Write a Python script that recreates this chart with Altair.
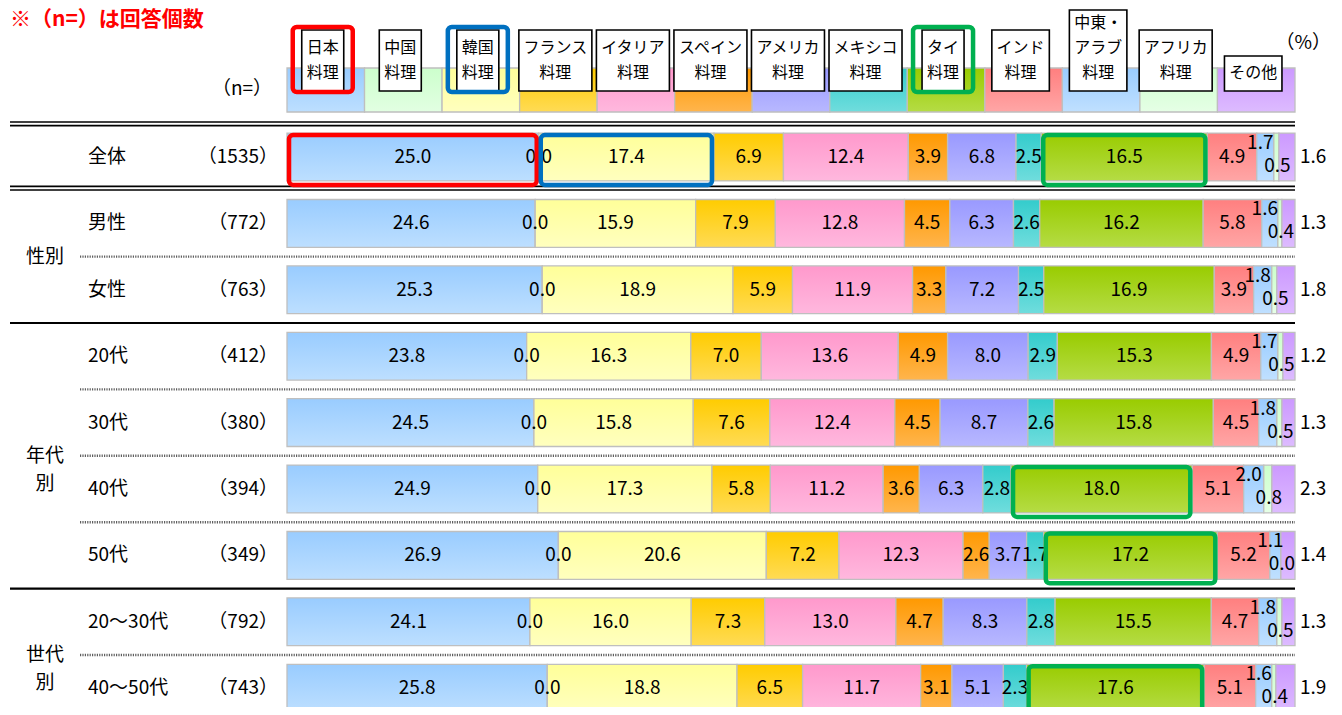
import altair as alt
import pandas as pd

# ---------------- data ----------------
categories = ["日本料理", "中国料理", "韓国料理", "フランス料理", "イタリア料理", "スペイン料理",
              "アメリカ料理", "メキシコ料理", "タイ料理", "インド料理", "中東・アラブ料理",
              "アフリカ料理", "その他"]
header_lines = [["日本", "料理"], ["中国", "料理"], ["韓国", "料理"], ["フランス", "料理"],
                ["イタリア", "料理"], ["スペイン", "料理"], ["アメリカ", "料理"], ["メキシコ", "料理"],
                ["タイ", "料理"], ["インド", "料理"], ["中東・", "アラブ", "料理"], ["アフリカ", "料理"],
                ["その他"]]

row_labels = ["全体", "男性", "女性", "20代", "30代", "40代", "50代", "20～30代", "40～50代"]
n_counts = [1535, 772, 763, 412, 380, 394, 349, 792, 743]

v_all = [25.0, 0.0, 17.4, 6.9, 12.4, 3.9, 6.8, 2.5, 16.5, 4.9, 1.7, 0.5, 1.6]
v_male = [24.6, 0.0, 15.9, 7.9, 12.8, 4.5, 6.3, 2.6, 16.2, 5.8, 1.6, 0.4, 1.3]
v_female = [25.3, 0.0, 18.9, 5.9, 11.9, 3.3, 7.2, 2.5, 16.9, 3.9, 1.8, 0.5, 1.8]
v_20s = [23.8, 0.0, 16.3, 7.0, 13.6, 4.9, 8.0, 2.9, 15.3, 4.9, 1.7, 0.5, 1.2]
v_30s = [24.5, 0.0, 15.8, 7.6, 12.4, 4.5, 8.7, 2.6, 15.8, 4.5, 1.8, 0.5, 1.3]
v_40s = [24.9, 0.0, 17.3, 5.8, 11.2, 3.6, 6.3, 2.8, 18.0, 5.1, 2.0, 0.8, 2.3]
v_50s = [26.9, 0.0, 20.6, 7.2, 12.3, 2.6, 3.7, 1.7, 17.2, 5.2, 1.1, 0.0, 1.4]
v_20_30s = [24.1, 0.0, 16.0, 7.3, 13.0, 4.7, 8.3, 2.8, 15.5, 4.7, 1.8, 0.5, 1.3]
v_40_50s = [25.8, 0.0, 18.8, 6.5, 11.7, 3.1, 5.1, 2.3, 17.6, 5.1, 1.6, 0.4, 1.9]
row_values = [v_all, v_male, v_female, v_20s, v_30s, v_40s, v_50s, v_20_30s, v_40_50s]

groups = [("性別", 1, 2), ("年代\n別", 3, 6), ("世代\n別", 7, 8)]
solid_after = [2, 6]          # solid separator after these rows
double_rows = [0]             # 全体 framed by double lines

highlights = [("全体", "日本料理", "#ff0000"), ("全体", "韓国料理", "#0070c0"),
              ("全体", "タイ料理", "#00b050"), ("40代", "タイ料理", "#00b050"),
              ("50代", "タイ料理", "#00b050"), ("40～50代", "タイ料理", "#00b050")]
header_highlights = [("日本料理", "#ff0000"), ("韓国料理", "#0070c0"), ("タイ料理", "#00b050")]

# colours (top, bottom of the vertical gradient)
col_top = ["#99ccff", "#ccffcc", "#ffff99", "#ffcc00", "#ff99cc", "#ff9900", "#9999ff",
           "#33cccc", "#99cc00", "#ff7f7f", "#99ccff", "#ccffcc", "#cc99ff"]
col_bot = ["#bddfff", "#e2ffe2", "#ffffbf", "#ffdb55", "#ffb8de", "#ffb54d", "#b8b8ff",
           "#70dddd", "#b5dc45", "#ffa6a6", "#c0e0ff", "#e6ffe6", "#ddbbff"]

# ---------------- layout ----------------
W, H = 1342, 715
FONT = "Noto Sans CJK JP"
PX_PER_UNIT = 10.08
BAR_LEFT = 287
XMIN = -BAR_LEFT / PX_PER_UNIT
XMAX = XMIN + W / PX_PER_UNIT
ROW0, STEP = 157, 66.4
YMIN = -ROW0 / STEP
YMAX = YMIN + H / STEP


def ux(px):
    return (px - BAR_LEFT) / PX_PER_UNIT


def ry(px):
    return (px - ROW0) / STEP


xs = alt.Scale(domain=[XMIN, XMAX], nice=False, zero=False)
ys = alt.Scale(domain=[YMIN, YMAX], nice=False, zero=False, reverse=True)

# segments (bars + header colour strip)
seg_rows, lab_rows = [], []
ncat = len(categories)
for r, vals in enumerate(row_values):
    tot = sum(vals)
    cum = 0.0
    for c, v in enumerate(vals):
        s = cum / tot * 100
        e = (cum + v) / tot * 100
        cum += v
        seg_rows.append(dict(cat=categories[c], ci=c, row=row_labels[r], x=s, x2=e,
                             y=r - 0.36, y2=r + 0.36))
        kind = "mid"
        if c == 10:
            kind = "top"
        elif c == 11:
            kind = "bot"
        elif c == 12:
            kind = "out"
        lab_rows.append(dict(xm=(s + e) / 2, y=r, t=f"{v:.1f}", kind=kind))
for c in range(ncat):
    seg_rows.append(dict(cat=categories[c], ci=c, row="header", x=c * 100 / ncat,
                         x2=(c + 1) * 100 / ncat, y=ry(68), y2=ry(112)))
seg = pd.DataFrame(seg_rows)
lab = pd.DataFrame(lab_rows)

X = lambda f="x": alt.X(f"{f}:Q", scale=xs, axis=None)
Y = lambda f="y": alt.Y(f"{f}:Q", scale=ys, axis=None)

layers = []
for c in range(ncat):
    grad = alt.LinearGradient(gradient="linear",
                              stops=[alt.GradientStop(color=col_top[c], offset=0),
                                     alt.GradientStop(color=col_bot[c], offset=1)],
                              x1=0, x2=0, y1=0, y2=1)
    layers.append(
        alt.Chart(seg[seg.ci == c]).mark_rect(fill=grad, stroke="#bfbfbf", strokeWidth=1.3)
        .encode(x=X("x"), x2="x2", y=Y("y"), y2="y2"))

# separator lines
line_rows = []
nrows = len(row_labels)
for r in range(nrows - 1):
    pos = r + 0.5
    if r in double_rows:
        continue
    kind = "solid" if r in solid_after else "dot"
    line_rows.append(dict(y=pos, x0=ux(10) if kind == "solid" else ux(80), x1=100, kind=kind))
for r in double_rows:
    for pos in (r - 0.5, r + 0.47):
        for off in (-1.8, 1.8):
            line_rows.append(dict(y=pos + off / STEP, x0=ux(10), x1=100, kind="double"))
lines = pd.DataFrame(line_rows)
layers.append(alt.Chart(lines[lines.kind == "solid"]).mark_rule(color="#000000", strokeWidth=2.2)
              .encode(x=X("x0"), x2="x1", y=Y("y")))
layers.append(alt.Chart(lines[lines.kind == "double"]).mark_rule(color="#000000", strokeWidth=1.6)
              .encode(x=X("x0"), x2="x1", y=Y("y")))
layers.append(alt.Chart(lines[lines.kind == "dot"]).mark_rule(color="#5e5e5e", strokeWidth=2.4,
                                                               strokeDash=[1.2, 1.2])
              .encode(x=X("x0"), x2="x1", y=Y("y")))

# value labels
txt = dict(font=FONT, fontSize=19, color="#000000")
layers.append(alt.Chart(lab[lab.kind == "mid"]).mark_text(baseline="middle", align="center", **txt)
              .encode(x=X("xm"), y=Y("y"), text="t:N"))
layers.append(alt.Chart(lab[lab.kind == "top"]).mark_text(baseline="middle", align="center",
                                                          dx=-5, dy=-14, **txt)
              .encode(x=X("xm"), y=Y("y"), text="t:N"))
layers.append(alt.Chart(lab[lab.kind == "bot"]).mark_text(baseline="middle", align="center",
                                                          dx=1, dy=9, **txt)
              .encode(x=X("xm"), y=Y("y"), text="t:N"))
layers.append(alt.Chart(lab[lab.kind == "out"]).mark_text(baseline="middle", align="left", **txt)
              .encode(x=alt.value(1300), y=Y("y"), text="t:N"))

# header label boxes
hb_rows, ht_rows = [], []
for c, ls in enumerate(header_lines):
    cx = (c + 0.5) * 100 / ncat - 0.3
    wpx = 15.5 * max(len(s) for s in ls) + 11
    n = len(ls)
    top = max(91 - 26 * n - 9, 10)
    hb_rows.append(dict(cat=categories[c], x=cx - wpx / 2 / PX_PER_UNIT, x2=cx + wpx / 2 / PX_PER_UNIT,
                        y=ry(top), y2=ry(91)))
    for k, s in enumerate(ls):
        ht_rows.append(dict(x=cx, y=ry(73 - 25 * (n - 1 - k)), t=s))
hb = pd.DataFrame(hb_rows)
ht = pd.DataFrame(ht_rows)
layers.append(alt.Chart(hb).mark_rect(fill="#ffffff", stroke="#000000", strokeWidth=1.6)
              .encode(x=X("x"), x2="x2", y=Y("y"), y2="y2"))
layers.append(alt.Chart(ht).mark_text(font=FONT, fontSize=16, color="#000000", baseline="middle")
              .encode(x=X("x"), y=Y("y"), text="t:N"))

# highlight boxes
hl_rows = []
for cat, colr in header_highlights:
    b = hb[hb.cat == cat].iloc[0]
    hl_rows.append(dict(x=b.x - 9 / PX_PER_UNIT, x2=b.x2 + 9 / PX_PER_UNIT,
                        y=b.y - 3 / STEP, y2=b.y2 + 1 / STEP, col=colr))
for rowname, cat, colr in highlights:
    s = seg[(seg.row == rowname) & (seg.cat == cat)].iloc[0]
    r = row_labels.index(rowname)
    hl_rows.append(dict(x=s.x + 0.2, x2=s.x2 - 0.2, y=r - 0.33, y2=r + 0.42, col=colr))
hl = pd.DataFrame(hl_rows)
layers.append(alt.Chart(hl).mark_rect(fillOpacity=0, strokeWidth=4.5, cornerRadius=4)
              .encode(x=X("x"), x2="x2", y=Y("y"), y2="y2",
                      stroke=alt.Stroke("col:N", scale=None)))

# left labels
left = pd.DataFrame(dict(y=list(range(nrows)), name=row_labels,
                         n=[f"（{v}）" for v in n_counts]))
ltxt = dict(font=FONT, fontSize=19, color="#000000", baseline="middle")
layers.append(alt.Chart(left).mark_text(align="left", **ltxt)
              .encode(x=alt.value(88), y=Y("y"), text="name:N"))
layers.append(alt.Chart(left).mark_text(align="right", **ltxt)
              .encode(x=alt.value(278), y=Y("y"), text="n:N"))
grp = pd.DataFrame(dict(t=[g[0] for g in groups], y=[(g[1] + g[2]) / 2 for g in groups]))
layers.append(alt.Chart(grp).mark_text(align="center", lineBreak="\n", lineHeight=28, **ltxt)
              .encode(x=alt.value(45), y=Y("y"), text="t:N"))

# misc texts
misc = pd.DataFrame(dict(t=["（n=）", "（%）"], y=[ry(89), ry(43)]))
layers.append(alt.Chart(misc.iloc[[0]]).mark_text(align="center", **ltxt)
              .encode(x=alt.value(242), y=Y("y"), text="t:N"))
layers.append(alt.Chart(misc.iloc[[1]]).mark_text(align="right", **ltxt)
              .encode(x=alt.value(1331), y=Y("y"), text="t:N"))
title = pd.DataFrame(dict(t=["※（n=）は回答個数"], y=[ry(9)]))
layers.append(alt.Chart(title).mark_text(align="left", baseline="top", font=FONT, fontSize=21,
                                         fontWeight="bold", color="#ff0000")
              .encode(x=alt.value(10), y=Y("y"), text="t:N"))

chart = alt.layer(*layers).properties(
    width=W, height=H, autosize="none",
    padding={"top": -8, "left": -8, "right": -8, "bottom": -8},
).configure_view(stroke=None)

chart.save("out.html", embed_options={"renderer": "svg", "actions": False})
